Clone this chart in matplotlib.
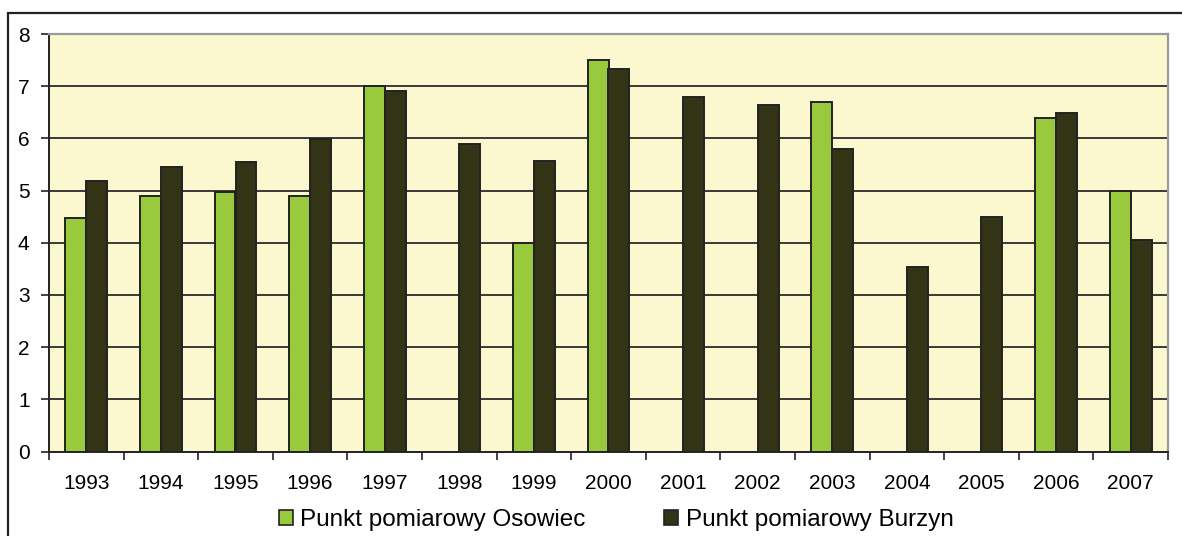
import numpy as np
import matplotlib
matplotlib.use("Agg")
import matplotlib.pyplot as plt
from matplotlib.patches import Rectangle, Patch

plt.rcParams["font.family"] = ["Liberation Sans", "DejaVu Sans"]

years = ["1993", "1994", "1995", "1996", "1997", "1998", "1999", "2000",
         "2001", "2002", "2003", "2004", "2005", "2006", "2007"]
osowiec = [4.48, 4.90, 4.97, 4.90, 7.00, None, 4.00, 7.50,
           None, None, 6.70, None, None, 6.40, 5.00]
burzyn = [5.18, 5.45, 5.55, 5.99, 6.90, 5.90, 5.56, 7.32,
          6.79, 6.63, 5.80, 3.53, 4.49, 6.48, 4.06]
labels = ["Punkt pomiarowy Osowiec", "Punkt pomiarowy Burzyn"]

GREEN = "#99C93C"
DARK = "#333315"
EDGE = "#222222"
BG = "#FBF8D0"

fig = plt.figure(figsize=(11.82, 5.36), dpi=100)
ax = fig.add_axes([49 / 1182, (536 - 451.5) / 536, (1168 - 49) / 1182, (451.5 - 34) / 536])
ax.set_facecolor(BG)

x = np.arange(len(years))
w = 0.28
xo = [i for i, v in enumerate(osowiec) if v is not None]
vo = [v for v in osowiec if v is not None]
ax.bar(np.array(xo) - w / 2, vo, w, color=GREEN, edgecolor=EDGE, linewidth=1.4, zorder=3)
ax.bar(x + w / 2, burzyn, w, color=DARK, edgecolor=EDGE, linewidth=1.4, zorder=3)

ax.set_xlim(-0.5, len(years) - 0.5)
ax.set_ylim(0, 8)
ax.set_yticks(range(0, 9))
ax.tick_params(axis="y", direction="out", length=6, width=1.2, color="#222222",
               labelsize=15, pad=8)
ax.set_xticks(x)
ax.set_xticklabels(years)
ax.set_xticks(np.arange(-0.5, len(years)), minor=True)
ax.tick_params(axis="x", which="major", length=0, labelsize=15, pad=16)
ax.tick_params(axis="x", which="minor", direction="out", length=6, width=1.2, color="#222222")

for yv in range(1, 8):
    ax.axhline(yv, color="#2b2b2b", linewidth=1.3, zorder=1)

for s in ["left", "bottom"]:
    ax.spines[s].set_color("#222222")
    ax.spines[s].set_linewidth(1.4)
for s in ["top", "right"]:
    ax.spines[s].set_color("#9a9a9a")
    ax.spines[s].set_linewidth(1.6)
ax.spines["bottom"].set_zorder(4)

handles = [Patch(facecolor=GREEN, edgecolor=EDGE, linewidth=1.2),
           Patch(facecolor=DARK, edgecolor=EDGE, linewidth=1.2)]
fig.legend(handles, labels, loc="center", bbox_to_anchor=(616 / 1182, 1 - 520 / 536),
           ncol=2, frameon=False, fontsize=17.5, handlelength=0.6, handleheight=0.6,
           handletextpad=0.3, columnspacing=3.2, borderaxespad=0)

frame = Rectangle((8 / 1182, -0.1), 1.2, 1.1 - 12.5 / 536, transform=fig.transFigure,
                  fill=False, edgecolor="#222222", linewidth=1.6)
fig.patches.append(frame)

fig.savefig("out.png", dpi=100)
